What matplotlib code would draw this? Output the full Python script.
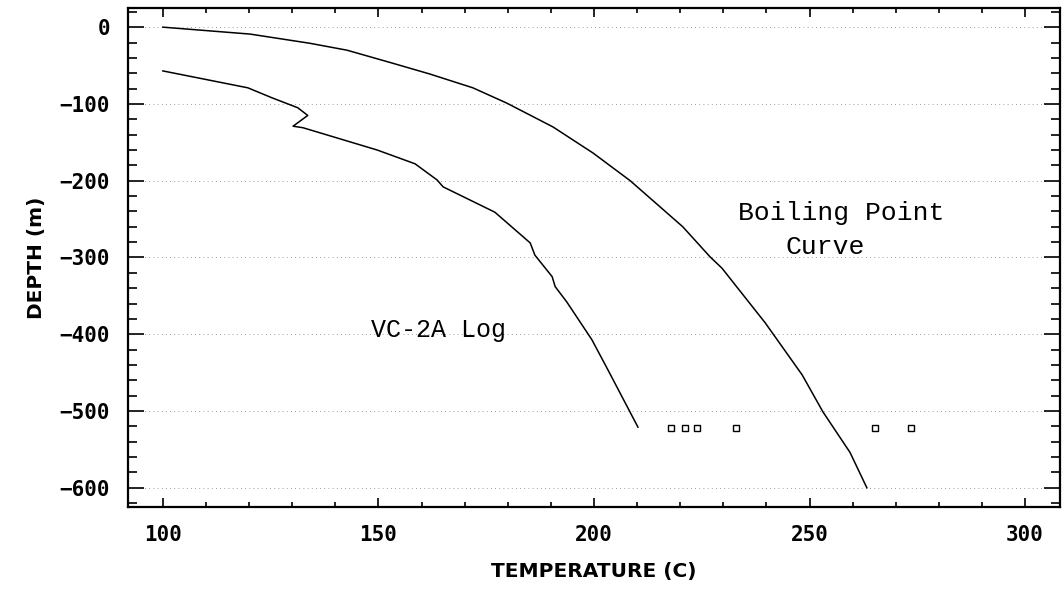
"""Temperature log for well VC-2A against the boiling point curve."""

import matplotlib

matplotlib.use("Agg")
import matplotlib.pyplot as plt
from matplotlib.ticker import MultipleLocator

# Boiling point with depth
bp_temp = [100.0, 120.2, 134.1, 142.7, 152.7, 161.9, 171.9, 179.8, 190.5,
           199.8, 208.4, 220.6, 226.9, 229.7, 239.7, 248.3, 253.1, 259.4, 263.3]
bp_depth = [0, -9, -21, -30, -46, -61, -79, -99, -130,
            -164, -200, -260, -299, -314, -385, -453, -501, -554, -600]

# Measured temperature log, VC-2A
log_temp = [100.0, 119.7, 125.3, 131.3, 133.6, 130.2, 132.5, 149.7, 158.5,
            163.6, 165.0, 177.0, 185.2, 186.3, 190.3, 191.0, 193.7, 199.5,
            203.2, 210.2]
log_depth = [-57, -79, -92, -105, -115, -129, -131, -160, -178,
             -199, -208, -241, -281, -297, -325, -338, -358, -407,
             -446, -521]

# Spot readings at the bottom of the hole
spot_temp = [217.9, 221.2, 223.9, 232.9, 265.2, 273.5]
spot_depth = [-522, -522, -522, -522, -522, -522]

LABEL_FONT = "Liberation Mono"
TICK_FONT = "DejaVu Sans Mono"


def main() -> None:
    fig = plt.figure(figsize=(10.62, 5.90), dpi=100)
    ax = fig.add_axes([0.1205, 0.1407, 0.8776, 0.8458])

    ax.plot(bp_temp, bp_depth, color="black", lw=1.1)
    ax.plot(log_temp, log_depth, color="black", lw=1.1)
    ax.plot(spot_temp, spot_depth, ls="none", marker="s", ms=4,
            mfc="white", mec="black", mew=1.0)

    ax.text(257.3, -242, "Boiling Point", fontsize=19, family=LABEL_FONT,
            ha="center", va="center")
    ax.text(253.6, -286, "Curve", fontsize=19, family=LABEL_FONT,
            ha="center", va="center")
    ax.text(164.0, -394, "VC-2A Log", fontsize=18, family=LABEL_FONT,
            ha="center", va="center")

    ax.set_xlim(91.9, 308.1)
    ax.set_ylim(-625, 25)

    ax.xaxis.set_major_locator(MultipleLocator(50))
    ax.xaxis.set_minor_locator(MultipleLocator(10))
    ax.yaxis.set_major_locator(MultipleLocator(100))
    ax.yaxis.set_minor_locator(MultipleLocator(20))

    ax.tick_params(axis="both", which="both", direction="in",
                   top=True, right=True, width=1.2)
    ax.tick_params(axis="x", which="major", length=6.5, pad=13)
    ax.tick_params(axis="x", which="minor", length=3.5)
    ax.tick_params(axis="y", which="major", length=11.5, pad=13)
    ax.tick_params(axis="y", which="minor", length=6.5)

    for lbl in ax.get_xticklabels() + ax.get_yticklabels():
        lbl.set_family(TICK_FONT)
        lbl.set_fontweight("bold")
        lbl.set_fontsize(15)

    ax.yaxis.grid(True, which="major", color="0.5", ls=(0, (1, 4)), lw=0.6)

    for spine in ax.spines.values():
        spine.set_linewidth(1.6)

    ax.set_xlabel("TEMPERATURE (C)", fontsize=14.5, fontweight="bold",
                  labelpad=12)
    ax.set_ylabel("DEPTH (m)", fontsize=14.5, fontweight="bold", labelpad=10)

    fig.savefig("out.png", dpi=100)
    plt.close(fig)


if __name__ == "__main__":
    main()
